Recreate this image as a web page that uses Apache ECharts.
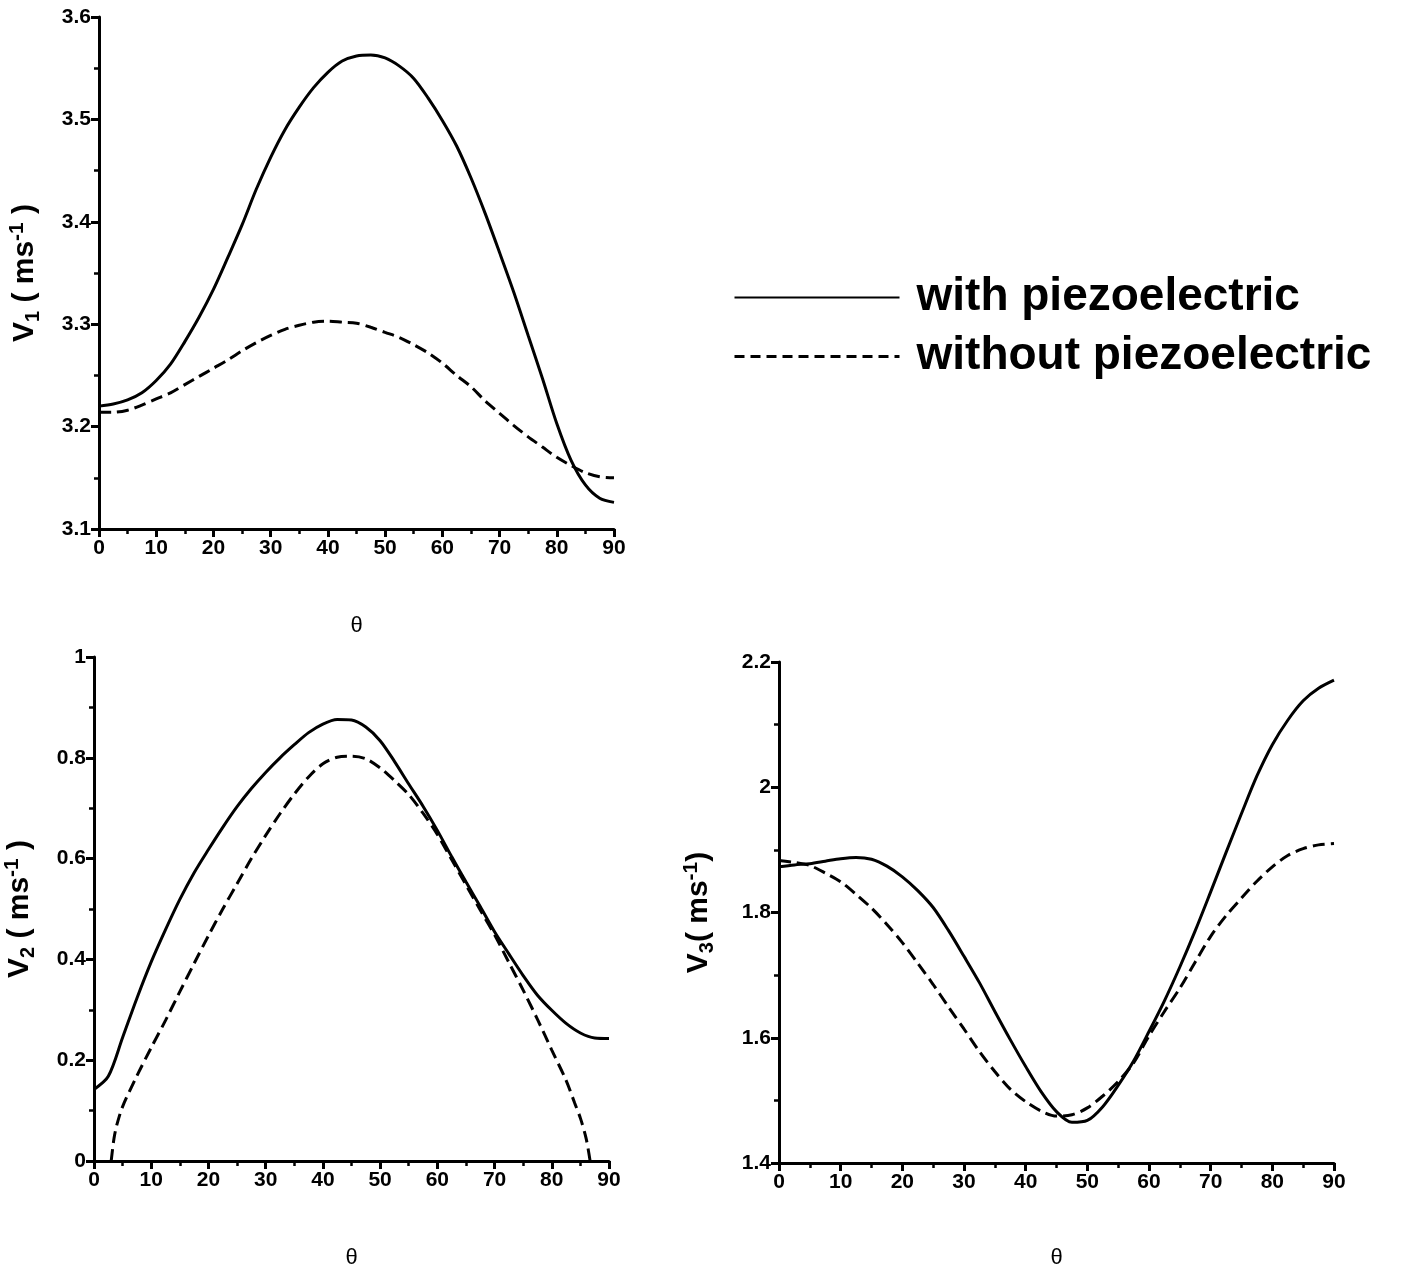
<!DOCTYPE html>
<html>
<head>
<meta charset="utf-8">
<script src="https://cdn.jsdelivr.net/npm/echarts@6/dist/echarts.min.js"></script>
<style>
  html, body { margin: 0; padding: 0; background: #fff; }
  #chart { width: 1403px; height: 1270px; }
</style>
</head>
<body>
<div id="chart"></div>
<script>
// theta (deg) sampled every 2.5 degrees
var theta = [0, 2.5, 5, 7.5, 10, 12.5, 15, 17.5, 20, 22.5, 25, 27.5, 30, 32.5, 35, 37.5, 40, 42.5, 45,
             47.5, 50, 52.5, 55, 57.5, 60, 62.5, 65, 67.5, 70, 72.5, 75, 77.5, 80, 82.5, 85, 87.5, 90];

// V1
var v1With    = [3.220, 3.222, 3.226, 3.233, 3.245, 3.261, 3.283, 3.307, 3.334, 3.365, 3.397, 3.432, 3.463, 3.490, 3.512, 3.531, 3.546, 3.557, 3.562,
                 3.563, 3.560, 3.552, 3.540, 3.521, 3.499, 3.474, 3.443, 3.408, 3.370, 3.331, 3.289, 3.247, 3.203, 3.167, 3.143, 3.130, 3.126];
var v1Without = [3.214, 3.214, 3.216, 3.221, 3.227, 3.233, 3.241, 3.249, 3.257, 3.265, 3.274, 3.282, 3.289, 3.295, 3.299, 3.302, 3.303, 3.302, 3.301,
                 3.297, 3.292, 3.287, 3.280, 3.272, 3.262, 3.250, 3.239, 3.225, 3.213, 3.201, 3.190, 3.180, 3.170, 3.162, 3.155, 3.151, 3.150];

// V2 (the dashed curve only exists between ~3 and ~86.7 deg)
var v2With       = [0.142, 0.168, 0.245, 0.323, 0.395, 0.459, 0.519, 0.572, 0.618, 0.662, 0.703, 0.739, 0.771, 0.800, 0.826, 0.850, 0.867, 0.876, 0.875,
                    0.861, 0.834, 0.793, 0.748, 0.704, 0.656, 0.604, 0.554, 0.505, 0.455, 0.411, 0.368, 0.329, 0.299, 0.273, 0.254, 0.244, 0.243];
var theta2Dashed = [3, 3.5, 4, 5, 7.5, 10, 12.5, 15, 17.5, 20, 22.5, 25, 27.5, 30, 32.5, 35, 37.5, 40, 42.5, 45, 47.5, 50,
                    52.5, 55, 57.5, 60, 62.5, 65, 67.5, 70, 72.5, 75, 77.5, 80, 82.5, 84, 85, 86, 86.7];
var v2Without    = [0, 0.045, 0.072, 0.108, 0.169, 0.225, 0.279, 0.336, 0.392, 0.447, 0.500, 0.550, 0.600, 0.646, 0.689, 0.728, 0.762, 0.788, 0.801, 0.803, 0.798, 0.780,
                    0.755, 0.727, 0.690, 0.648, 0.598, 0.548, 0.498, 0.449, 0.394, 0.339, 0.281, 0.220, 0.160, 0.115, 0.085, 0.045, 0];

// V3
var v3With    = [1.873, 1.876, 1.878, 1.882, 1.886, 1.888, 1.885, 1.874, 1.857, 1.835, 1.808, 1.771, 1.730, 1.688, 1.642, 1.597, 1.554, 1.514, 1.482,
                 1.465, 1.468, 1.490, 1.524, 1.563, 1.610, 1.659, 1.713, 1.771, 1.833, 1.896, 1.958, 2.018, 2.068, 2.107, 2.138, 2.158, 2.171];
var v3Without = [1.883, 1.880, 1.875, 1.863, 1.849, 1.829, 1.807, 1.781, 1.752, 1.719, 1.685, 1.649, 1.614, 1.578, 1.546, 1.518, 1.498, 1.483, 1.475,
                 1.477, 1.488, 1.507, 1.530, 1.560, 1.603, 1.642, 1.679, 1.721, 1.762, 1.795, 1.823, 1.850, 1.873, 1.891, 1.902, 1.908, 1.910];

var seriesNames = ['with piezoelectric', 'without piezoelectric'];

// [min, max, interval]
var xRange  = [0, 90, 10];
var v1Range = [3.1, 3.6, 0.1];
var v2Range = [0, 1, 0.2];
var v3Range = [1.4, 2.2, 0.2];

function zip(xs, ys) {
  return xs.map(function (x, i) { return [x, ys[i]]; });
}

var tickFont = "'Liberation Sans Narrow', 'Liberation Sans', Arial, sans-serif";
var textFont = "'Liberation Sans', Arial, sans-serif";

var nameRich = {
  b:   { fontSize: 30, fontWeight: 'bold', fontFamily: textFont, color: '#000', lineHeight: 36 },
  sub: { fontSize: 20, fontWeight: 'bold', fontFamily: textFont, color: '#000', lineHeight: 20, verticalAlign: 'bottom' },
  sup: { fontSize: 21, fontWeight: 'bold', fontFamily: textFont, color: '#000', lineHeight: 21, verticalAlign: 'top' }
};

function xAxisOf(grid, gap) {
  return {
    type: 'value', gridIndex: grid,
    min: xRange[0], max: xRange[1], interval: xRange[2],
    name: 'θ', nameLocation: 'middle', nameGap: gap,
    nameTextStyle: { fontSize: 22, fontFamily: textFont, color: '#000' },
    axisLine: { onZero: false, lineStyle: { color: '#000', width: 3 } },
    axisTick: { inside: false, length: 8, lineStyle: { color: '#000', width: 3 } },
    minorTick: { show: true, splitNumber: 2, length: 5, lineStyle: { color: '#000', width: 2.5 } },
    axisLabel: { fontSize: 21, fontWeight: 'bold', fontFamily: tickFont, color: '#000', margin: 9 },
    splitLine: { show: false }
  };
}

function yAxisOf(grid, range, name, gap, fmt) {
  return {
    type: 'value', gridIndex: grid,
    min: range[0], max: range[1], interval: range[2],
    name: name, nameLocation: 'middle', nameGap: gap, nameRotate: 90,
    nameTextStyle: { rich: nameRich },
    axisLine: { onZero: false, lineStyle: { color: '#000', width: 3 } },
    axisTick: { inside: false, length: 8, lineStyle: { color: '#000', width: 3 } },
    minorTick: { show: true, splitNumber: 2, length: 5, lineStyle: { color: '#000', width: 2.5 } },
    axisLabel: {
      fontSize: 21, fontWeight: 'bold', fontFamily: tickFont, color: '#000', margin: 8,
      formatter: fmt
    },
    splitLine: { show: false }
  };
}

function line(name, xi, data, dashed) {
  return {
    name: name, type: 'line', xAxisIndex: xi, yAxisIndex: xi,
    data: data, symbol: 'none', showSymbol: false,
    smooth: 0.3,
    lineStyle: { color: '#000', width: 3, type: dashed ? [12, 6] : 'solid' },
    itemStyle: { color: '#000' }
  };
}

var chart = echarts.init(document.getElementById('chart'), null, { renderer: 'canvas' });

chart.setOption({
  backgroundColor: '#fff',
  animation: false,
  legend: {
    orient: 'vertical', left: 728, top: 266,
    itemWidth: 165, itemHeight: 14, itemGap: 6,
    data: [
      { name: seriesNames[0] },
      { name: seriesNames[1], lineStyle: { type: [10, 6], width: 3 } }
    ],
    itemStyle: { opacity: 0 },
    textStyle: { fontSize: 46, fontWeight: 'bold', fontFamily: textFont, color: '#000', lineHeight: 53, padding: [0, 0, 0, 12] }
  },
  grid: [
    { left: 99,  top: 17,  width: 515, height: 512 },
    { left: 94,  top: 657, width: 515, height: 512 },
    { left: 779, top: 662, width: 555, height: 506 }
  ],
  xAxis: [xAxisOf(0, 86), xAxisOf(1, 86), xAxisOf(2, 84)],
  yAxis: [
    yAxisOf(0, v1Range, '{b|V}{sub|1}{b| ( ms}{sup|-1}{b| )}', 56, function (v) { return v.toFixed(1); }),
    yAxisOf(1, v2Range, '{b|V}{sub|2}{b| ( ms}{sup|-1}{b| )}', 56, function (v) { return String(+v.toFixed(1)); }),
    yAxisOf(2, v3Range, '{b|V}{sub|3}{b|( ms}{sup|-1}{b|)}', 62, function (v) { return String(+v.toFixed(1)); })
  ],
  series: [
    line(seriesNames[0], 0, zip(theta, v1With), false),
    line(seriesNames[1], 0, zip(theta, v1Without), true),
    line(seriesNames[0], 1, zip(theta, v2With), false),
    line(seriesNames[1], 1, zip(theta2Dashed, v2Without), true),
    line(seriesNames[0], 2, zip(theta, v3With), false),
    line(seriesNames[1], 2, zip(theta, v3Without), true)
  ]
});
</script>
</body>
</html>
